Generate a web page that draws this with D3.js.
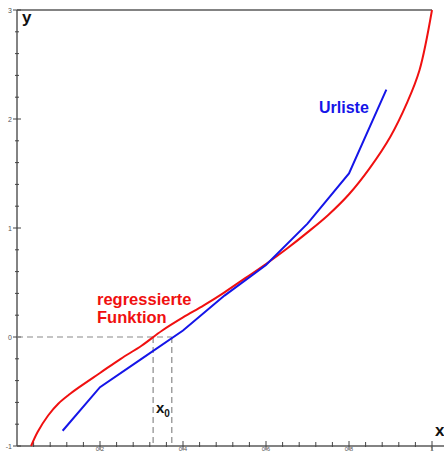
<!DOCTYPE html>
<html><head><meta charset="utf-8">
<script src="https://cdn.jsdelivr.net/npm/d3@7"></script>
<style>html,body{margin:0;padding:0;background:#fff;overflow:hidden}</style>
</head><body>
<script>
// ---- data ----
const xTickLabels = ["0.2", "0.4", "0.6", "0.8", "1"];
const xTickValues = [0.2, 0.4, 0.6, 0.8, 1];
const yTickLabels = ["-1", "0", "1", "2", "3"];
const yTickValues = [-1, 0, 1, 2, 3];
// Urliste (raw list)
const urlisteX = [0.11, 0.2, 0.3, 0.4, 0.5, 0.6, 0.7, 0.8, 0.89];
const urlisteY = [-0.86, -0.46, -0.2, 0.06, 0.38, 0.66, 1.04, 1.5, 2.27];
// regressierte Funktion
const regX = [0.034, 0.05, 0.075, 0.1, 0.125, 0.15, 0.2, 0.25, 0.3, 0.35, 0.4, 0.45, 0.5, 0.55, 0.6, 0.65, 0.7, 0.75, 0.8, 0.85, 0.9, 0.94, 0.97, 1.0];
const regY = [-1.0, -0.87, -0.72, -0.61, -0.53, -0.46, -0.33, -0.2, -0.08, 0.06, 0.18, 0.29, 0.41, 0.54, 0.67, 0.81, 0.96, 1.12, 1.31, 1.55, 1.84, 2.15, 2.45, 3.0];
// zero crossings
const x0Reg = 0.328;
const x0Urliste = 0.373;

const W = 444, H = 452;
const x = d3.scaleLinear().domain([0, 1]).range([17, 432]);
const y = d3.scaleLinear().domain([-1, 3]).range([446, 10]);

const svg = d3.select("body").append("svg").attr("width", W).attr("height", H)
  .style("font-family", "'Liberation Sans', Arial, sans-serif");

const axisCol = "#5a5a5a";

// top frame line
svg.append("line").attr("x1", x(0)).attr("x2", x(1)).attr("y1", y(3)).attr("y2", y(3))
  .attr("stroke", axisCol).attr("stroke-width", 1.5);
// y axis
svg.append("line").attr("x1", x(0)).attr("x2", x(0)).attr("y1", y(3)).attr("y2", y(-1))
  .attr("stroke", axisCol).attr("stroke-width", 1.5);
// x axis
svg.append("line").attr("x1", x(0)).attr("x2", W).attr("y1", y(-1)).attr("y2", y(-1))
  .attr("stroke", axisCol).attr("stroke-width", 1.5);

// y minor ticks
const yMinor = d3.range(-1, 3.001, 0.2);
svg.append("g").selectAll("line").data(yMinor).join("line")
  .attr("x1", d => Math.abs(d - Math.round(d)) < 1e-6 ? x(0) - 4 : x(0) - 2)
  .attr("x2", d => Math.abs(d - Math.round(d)) < 1e-6 ? x(0) + 4 : x(0) + 2)
  .attr("y1", d => y(d)).attr("y2", d => y(d))
  .attr("stroke", "#444").attr("stroke-width", 1);
// x minor ticks
const xMinor = d3.range(0.04, 1.001, 0.04);
svg.append("g").selectAll("line").data(xMinor).join("line")
  .attr("x1", d => x(d)).attr("x2", d => x(d))
  .attr("y1", d => Math.abs(d * 5 - Math.round(d * 5)) < 1e-6 ? y(-1) - 5 : y(-1) - 4)
  .attr("y2", d => Math.abs(d * 5 - Math.round(d * 5)) < 1e-6 ? y(-1) + 4 : y(-1) + 1)
  .attr("stroke", "#444").attr("stroke-width", 1);

// tick labels
svg.append("g").selectAll("text").data(yTickValues).join("text")
  .attr("x", x(0) - 5).attr("y", d => y(d) + 2.5)
  .attr("text-anchor", "end").attr("font-size", 7).attr("fill", "#555")
  .text((d, i) => yTickLabels[i]);
svg.append("g").selectAll("text").data(xTickValues).join("text")
  .attr("x", d => x(d)).attr("y", 451)
  .attr("text-anchor", "middle").attr("font-size", 6).attr("fill", "#555")
  .text((d, i) => xTickLabels[i]);

// dashed guides
const dashCol = "#8a8a8a";
svg.append("line").attr("x1", x(0)).attr("x2", x(x0Urliste)).attr("y1", y(0)).attr("y2", y(0))
  .attr("stroke", dashCol).attr("stroke-width", 1.2).attr("stroke-dasharray", "6,4");
[x0Reg, x0Urliste].forEach(v => {
  svg.append("line").attr("x1", x(v)).attr("x2", x(v)).attr("y1", y(0)).attr("y2", y(-1))
    .attr("stroke", dashCol).attr("stroke-width", 1.2).attr("stroke-dasharray", "6,4");
});

// regression curve
const regData = regX.map((v, i) => [v, regY[i]]);
svg.append("path").datum(regData)
  .attr("d", d3.line().x(d => x(d[0])).y(d => y(d[1])).curve(d3.curveCatmullRom))
  .attr("fill", "none").attr("stroke", "#f01010").attr("stroke-width", 2);

// Urliste polyline
const urData = urlisteX.map((v, i) => [v, urlisteY[i]]);
svg.append("path").datum(urData)
  .attr("d", d3.line().x(d => x(d[0])).y(d => y(d[1])))
  .attr("fill", "none").attr("stroke", "#1515e8").attr("stroke-width", 2);

// labels
svg.append("text").attr("x", 319).attr("y", 113).attr("font-size", 16).attr("font-weight", "bold")
  .attr("fill", "#1515e8").text("Urliste");
svg.append("text").attr("x", 97).attr("y", 305).attr("font-size", 16.5).attr("font-weight", "bold")
  .attr("fill", "#f01010").text("regressierte");
svg.append("text").attr("x", 97).attr("y", 323).attr("font-size", 16.5).attr("font-weight", "bold")
  .attr("fill", "#f01010").text("Funktion");
svg.append("text").attr("x", 22).attr("y", 23).attr("font-size", 17).attr("font-weight", "bold")
  .attr("fill", "#111").text("y");
svg.append("text").attr("x", 435).attr("y", 436).attr("font-size", 17).attr("font-weight", "bold")
  .attr("fill", "#111").text("x");
const x0t = svg.append("text").attr("x", 156).attr("y", 413).attr("font-size", 15).attr("font-weight", "bold")
  .attr("fill", "#111");
x0t.append("tspan").text("x");
x0t.append("tspan").attr("dy", 4).attr("font-size", 10).text("0");
</script>
</body></html>
